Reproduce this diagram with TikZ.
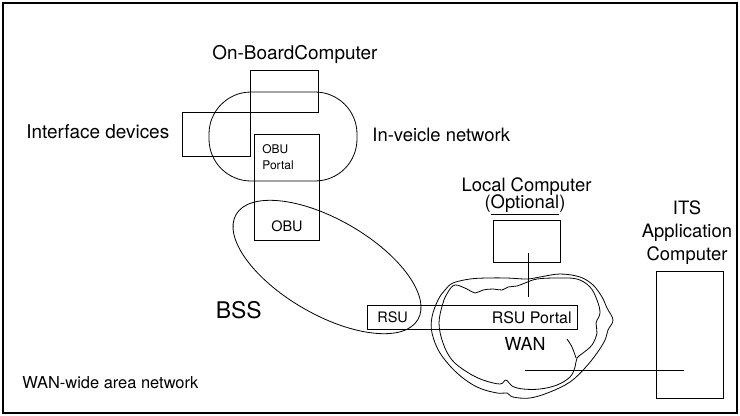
\documentclass[tikz,border=0pt]{standalone}
\usepackage{fontspec}
\setmainfont{TeX Gyre Heros}
\usetikzlibrary{shapes.geometric}

\begin{document}
\begin{tikzpicture}[x=1bp, y=-1bp, line width=0.8bp,
  box/.style={draw, inner sep=0pt},
  lbl/.style={inner sep=0pt, font=\fontsize{19}{23}\selectfont},
  small/.style={inner sep=0pt, font=\fontsize{14.5}{16}\selectfont}]
  \useasboundingbox (0,0) rectangle (740,415);
  \draw[line width=1.1bp] (3,3) rectangle (737,413);
  % vehicle side
  \node[box, rounded corners=42bp, minimum width=148bp, minimum height=89bp] (invnet) at (283,136.5) {};
  \node[box, minimum width=68bp, minimum height=42bp] (obc) at (284,91) {};
  \node[box, minimum width=68bp, minimum height=44bp] (iface) at (216,134) {};
  \node[box, minimum width=65bp, minimum height=106bp] (obu) at (286.5,187) {};
  \node[ellipse, draw, inner sep=0pt, minimum width=210bp, minimum height=95bp, rotate=-30] (bss) at (327,267) {};
  \node[lbl, anchor=base west] (obctxt) at (212,59) {On-BoardComputer};
  \node[lbl, anchor=base west] (ifacetxt) at (26,138) {Interface devices};
  \node[lbl, anchor=base west, font=\fontsize{18.5}{23}\selectfont] (invtxt) at (372,141.5) {In-veicle network};
  \node[inner sep=0pt, font=\fontsize{12}{16}\selectfont, align=left, anchor=north west] (portaltxt) at (262,144) {OBU\\Portal};
  \node[small, anchor=base] (obutxt) at (287,231.5) {OBU};
  \node[inner sep=0pt, font=\fontsize{23}{26}\selectfont, anchor=base east] (bsstxt) at (262,318) {BSS};
  % roadside and WAN
  \node[box, minimum width=210bp, minimum height=24bp] (rsuband) at (472,317) {};
  \node[small, anchor=base west] (rsutxt) at (377,322.5) {RSU};
  \node[inner sep=0pt, font=\fontsize{16}{18}\selectfont, anchor=base east] (rsuportal) at (572,323) {RSU Portal};
  \node[inner sep=0pt, font=\fontsize{18}{20}\selectfont, anchor=base] (wantxt) at (525,350.5) {WAN};
  \draw plot[smooth cycle, tension=0.6] coordinates {
    (453,283) (470,279) (487,278) (507,278) (527,279) (540,277) (560,274)
    (580,277) (593,285) (602,297) (607,308) (613,320) (608,330) (605,340)
    (597,353) (585,368) (570,382) (550,392) (530,398) (513,397) (507,393)
    (497,393) (477,387) (457,373) (440,353) (432,333) (432,317) (438,300) (445,290)};
  \draw plot[smooth cycle, tension=0.6] coordinates {
    (455,285) (467,289) (475,293) (483,290) (493,289) (502,290) (508,287)
    (517,286) (525,283) (537,279) (557,278) (577,279) (590,287) (597,300)
    (600,313) (596,323) (597,333) (592,345) (583,353) (577,358) (575,367)
    (570,377) (557,385) (540,389) (523,389) (512,386) (506,380) (500,384)
    (483,380) (467,372) (452,360) (443,343) (439,323) (443,303) (448,292)};
  \draw plot[smooth, tension=0.6] coordinates {(567,339) (572,347) (576,358)};
  \node[box, minimum width=67bp, minimum height=42bp] (local) at (526.5,241) {};
  \node[inner sep=0pt, font=\fontsize{18.5}{20}\selectfont, anchor=base] (localtxt) at (526.5,191.5) {Local Computer};
  \node[inner sep=0pt, font=\fontsize{18.5}{20}\selectfont, anchor=base] (opttxt) at (525,208.5) {(\underline{Optional})};
  \coordinate (lcstub) at (528,253);
  \coordinate (lcend) at (528,297);
  \draw (lcstub) -- (lcend);
  % application computer
  \node[box, minimum width=67bp, minimum height=127bp] (its) at (689.5,334.5) {};
  \node[inner sep=0pt, font=\fontsize{18.5}{23}\selectfont, align=center, anchor=north] (itstxt) at (687,200.5) {ITS\\Application\\Computer};
  \coordinate (wanstub) at (525,370);
  \coordinate (itsend) at (684,370);
  \draw (wanstub) -- (itsend);
  \node[inner sep=0pt, font=\fontsize{16.5}{18}\selectfont, anchor=base west] (legend) at (22,388) {WAN-wide area network};
\end{tikzpicture}
\end{document}
